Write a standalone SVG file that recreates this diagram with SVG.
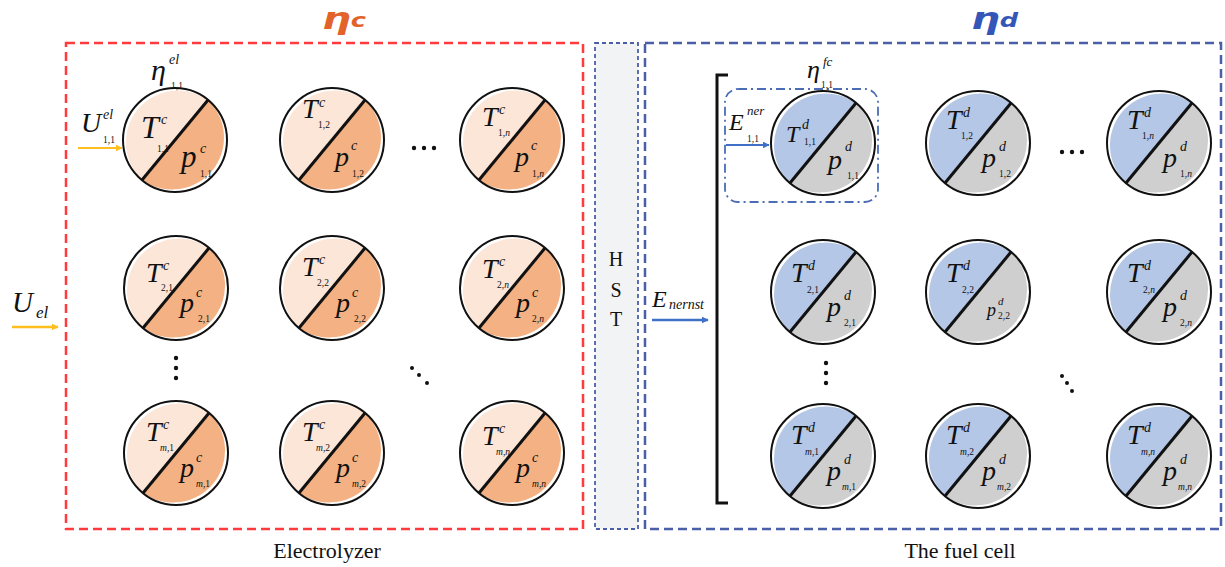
<svg xmlns="http://www.w3.org/2000/svg" xmlns:xlink="http://www.w3.org/1999/xlink" width="1225" height="567" viewBox="0 0 1225 567">
<style>
.m{font-family:"Liberation Serif",serif;font-style:italic;fill:#111}
.u{font-family:"Liberation Serif",serif;fill:#111}
.big{font-size:28px}
.sup{font-size:14px}
.sub{font-size:9.5px;font-style:normal}
.sub tspan{font-style:italic}
.ring{fill:none;stroke:#111;stroke-width:2}
.cut{stroke:#111;stroke-width:3}
.dot{fill:#111}
.ttl{font-family:"DejaVu Sans",sans-serif;font-style:italic;font-weight:bold}
</style>
<defs>
<marker id="ay" viewBox="0 0 10 10" refX="9" refY="5" markerWidth="7" markerHeight="7" orient="auto" markerUnits="userSpaceOnUse"><path d="M0,0 L10,5 L0,10 Z" fill="#ffbf1f"/></marker>
<marker id="ab" viewBox="0 0 10 10" refX="9" refY="5" markerWidth="7" markerHeight="7" orient="auto" markerUnits="userSpaceOnUse"><path d="M0,0 L10,5 L0,10 Z" fill="#3f6fc6"/></marker>
<g id="elBase">
<path d="M-33,40 A52,52 0 0,1 33,-40 Z" fill="#fce6d8"/>
<path d="M33,-40 A52,52 0 0,1 -33,40 Z" fill="#f4b183"/>
<circle r="52" class="ring"/>
<line x1="-33" y1="40" x2="33" y2="-40" class="cut"/>
</g>
<g id="fcBase">
<path d="M-33,40 A52,52 0 0,1 33,-40 Z" fill="#b4c7e7"/>
<path d="M33,-40 A52,52 0 0,1 -33,40 Z" fill="#d0cfcf"/>
<circle r="52" class="ring"/>
<line x1="-33" y1="40" x2="33" y2="-40" class="cut"/>
</g>
</defs>

<!-- frames -->
<g id="frames">
<rect x="66" y="43" width="517" height="486" fill="none" stroke="#ff3b3b" stroke-width="2.5" stroke-dasharray="9 5"/>
<rect x="595" y="43" width="43" height="486" fill="#f2f3f5" stroke="#4a5fa8" stroke-width="1.8" stroke-dasharray="4 3"/>
<rect x="645" y="43" width="576" height="486" fill="none" stroke="#4a5fa8" stroke-width="2.5" stroke-dasharray="9 5"/>
<rect x="725" y="89" width="153" height="113" rx="13" fill="none" stroke="#4a6db5" stroke-width="1.8" stroke-dasharray="9 4 2 4"/>
</g>

<!-- titles and labels -->
<g id="titles">
<text class="ttl" transform="translate(322,29) scale(1.35,1)" font-size="30" fill="#e2622a">η<tspan font-size="19" dy="-2">c</tspan></text>
<text class="ttl" transform="translate(971,29) scale(1.35,1)" font-size="30" fill="#3456b8">η<tspan font-size="19" dy="-2">d</tspan></text>
<text class="u" x="327" y="558" font-size="22" text-anchor="middle">Electrolyzer</text>
<text class="u" x="960" y="558" font-size="22" text-anchor="middle">The fuel cell</text>
<text class="u" x="616" y="266" font-size="20" text-anchor="middle">H</text>
<text class="u" x="616" y="297" font-size="20" text-anchor="middle">S</text>
<text class="u" x="616" y="326" font-size="20" text-anchor="middle">T</text>
<!-- eta el -->
<text class="m" x="151" y="80" font-size="30">η</text>
<text class="m" x="169" y="64" font-size="14">el</text>
<text class="m sub" x="171" y="89">1,1</text>
<!-- U el 1,1 -->
<text class="m" x="81" y="132" font-size="28">U</text>
<text class="m" x="103" y="119" font-size="14">el</text>
<text class="m sub" x="103" y="143">1,1</text>
<!-- U el big -->
<text class="m" x="12" y="312" font-size="29">U</text>
<text class="m" x="36" y="318" font-size="17">el</text>
<!-- E nernst -->
<text class="m" x="652" y="307" font-size="24">E</text>
<text class="m" x="669" y="309" font-size="14">nernst</text>
<!-- E ner 1,1 -->
<text class="m" x="729" y="130" font-size="24">E</text>
<text class="m" x="747" y="115" font-size="13">ner</text>
<text class="m sub" x="747" y="142">1,1</text>
<!-- eta fc -->
<text class="m" x="807" y="78" font-size="26">η</text>
<text class="m" x="823" y="66" font-size="13">fc</text>
<text class="m sub" x="821" y="88">1,1</text>
</g>

<!-- connectors -->
<g id="connectors">
<line x1="78" y1="148" x2="122" y2="148" stroke="#ffbf1f" stroke-width="2" marker-end="url(#ay)"/>
<line x1="12" y1="327" x2="58" y2="327" stroke="#ffbf1f" stroke-width="2.5" marker-end="url(#ay)"/>
<line x1="652" y1="320" x2="708" y2="320" stroke="#3f6fc6" stroke-width="2.5" marker-end="url(#ab)"/>
<line x1="726" y1="145" x2="769" y2="145" stroke="#3f6fc6" stroke-width="2" marker-end="url(#ab)"/>
<path d="M728,75 L717,75 L717,503 L728,503" fill="none" stroke="#111" stroke-width="3"/>
</g>

<!-- ellipsis dots -->
<g id="dots">
<circle class="dot" cx="414" cy="148" r="2.2"/><circle class="dot" cx="424" cy="148" r="2.2"/><circle class="dot" cx="434" cy="148" r="2.2"/>
<circle class="dot" cx="1062" cy="152" r="2.2"/><circle class="dot" cx="1072" cy="152" r="2.2"/><circle class="dot" cx="1082" cy="152" r="2.2"/>
<circle class="dot" cx="176" cy="358" r="2.2"/><circle class="dot" cx="176" cy="368" r="2.2"/><circle class="dot" cx="176" cy="378" r="2.2"/>
<circle class="dot" cx="826" cy="363" r="2.2"/><circle class="dot" cx="826" cy="373" r="2.2"/><circle class="dot" cx="826" cy="383" r="2.2"/>
<circle class="dot" cx="412" cy="368" r="2"/><circle class="dot" cx="419" cy="375" r="2"/><circle class="dot" cx="427" cy="383" r="2"/>
<circle class="dot" cx="1062" cy="376" r="2"/><circle class="dot" cx="1067" cy="383" r="2"/><circle class="dot" cx="1072" cy="391" r="2"/>
</g>

<!-- electrolyzer nodes -->
<g id="el-1-1" transform="translate(175,140)"><use href="#elBase"/>
<text class="m" x="-34" y="-2" font-size="32">T</text><text class="m sup" x="-14" y="-16">c</text><text class="m sub" x="-18" y="12">1,1</text>
<text class="m" x="6" y="27" font-size="31">p</text><text class="m sup" x="25" y="13">c</text><text class="m sub" x="25" y="37">1,1</text></g>
<g id="el-1-2" transform="translate(332,140)"><use href="#elBase"/>
<text class="m big" x="-30" y="-22">T</text><text class="m sup" x="-13" y="-33">c</text><text class="m sub" x="-14" y="-12">1,2</text>
<text class="m big" x="3" y="26">p</text><text class="m sup" x="19" y="10">c</text><text class="m sub" x="20" y="37">1,2</text></g>
<g id="el-1-n" transform="translate(512,140)"><use href="#elBase"/>
<text class="m big" x="-30" y="-14">T</text><text class="m sup" x="-13" y="-26">c</text><text class="m sub" x="-14" y="-4">1,<tspan>n</tspan></text>
<text class="m big" x="3" y="26">p</text><text class="m sup" x="19" y="10">c</text><text class="m sub" x="20" y="37">1,<tspan>n</tspan></text></g>

<g id="el-2-1" transform="translate(176,288)"><use href="#elBase"/>
<text class="m big" x="-30" y="-6">T</text><text class="m sup" x="-13" y="-18">c</text><text class="m sub" x="-15" y="3">2,1</text>
<text class="m big" x="4" y="24">p</text><text class="m sup" x="20" y="9">c</text><text class="m sub" x="22" y="34">2,1</text></g>
<g id="el-2-2" transform="translate(332,288)"><use href="#elBase"/>
<text class="m big" x="-30" y="-12">T</text><text class="m sup" x="-13" y="-24">c</text><text class="m sub" x="-15" y="-2">2,2</text>
<text class="m big" x="4" y="24">p</text><text class="m sup" x="20" y="9">c</text><text class="m sub" x="22" y="34">2,2</text></g>
<g id="el-2-n" transform="translate(512,288)"><use href="#elBase"/>
<text class="m big" x="-30" y="-10">T</text><text class="m sup" x="-13" y="-22">c</text><text class="m sub" x="-15" y="0">2,<tspan>n</tspan></text>
<text class="m big" x="4" y="24">p</text><text class="m sup" x="20" y="9">c</text><text class="m sub" x="20" y="34">2,<tspan>n</tspan></text></g>

<g id="el-m-1" transform="translate(176,453)"><use href="#elBase"/>
<text class="m big" x="-30" y="-12">T</text><text class="m sup" x="-13" y="-24">c</text><text class="m sub" x="-16" y="-2"><tspan>m</tspan>,1</text>
<text class="m big" x="4" y="24">p</text><text class="m sup" x="20" y="9">c</text><text class="m sub" x="20" y="34"><tspan>m</tspan>,1</text></g>
<g id="el-m-2" transform="translate(332,453)"><use href="#elBase"/>
<text class="m big" x="-30" y="-12">T</text><text class="m sup" x="-13" y="-24">c</text><text class="m sub" x="-16" y="-2"><tspan>m</tspan>,2</text>
<text class="m big" x="4" y="24">p</text><text class="m sup" x="20" y="9">c</text><text class="m sub" x="20" y="34"><tspan>m</tspan>,2</text></g>
<g id="el-m-n" transform="translate(512,453)"><use href="#elBase"/>
<text class="m big" x="-30" y="-8">T</text><text class="m sup" x="-13" y="-20">c</text><text class="m sub" x="-16" y="2"><tspan>m</tspan>,<tspan>n</tspan></text>
<text class="m big" x="4" y="24">p</text><text class="m sup" x="20" y="9">c</text><text class="m sub" x="20" y="34"><tspan>m</tspan>,<tspan>n</tspan></text></g>

<!-- fuel cell nodes -->
<g id="fc-1-1" transform="translate(823,143)"><use href="#fcBase"/>
<text class="m" x="-37" y="-1" font-size="24">T</text><text class="m sup" x="-21" y="-14">d</text><text class="m sub" x="-19" y="2">1,1</text>
<text class="m big" x="5" y="26">p</text><text class="m sup" x="22" y="8">d</text><text class="m sub" x="24" y="36">1,1</text></g>
<g id="fc-1-2" transform="translate(978,143)"><use href="#fcBase"/>
<text class="m big" x="-32" y="-14">T</text><text class="m sup" x="-15" y="-26">d</text><text class="m sub" x="-17" y="-4">1,2</text>
<text class="m big" x="4" y="24">p</text><text class="m sup" x="21" y="8">d</text><text class="m sub" x="21" y="34">1,2</text></g>
<g id="fc-1-n" transform="translate(1159,143)"><use href="#fcBase"/>
<text class="m big" x="-32" y="-14">T</text><text class="m sup" x="-15" y="-26">d</text><text class="m sub" x="-17" y="-4">1,<tspan>n</tspan></text>
<text class="m big" x="4" y="24">p</text><text class="m sup" x="21" y="8">d</text><text class="m sub" x="21" y="34">1,<tspan>n</tspan></text></g>

<g id="fc-2-1" transform="translate(823,292)"><use href="#fcBase"/>
<text class="m big" x="-32" y="-10">T</text><text class="m sup" x="-15" y="-22">d</text><text class="m sub" x="-16" y="1">2,1</text>
<text class="m big" x="4" y="24">p</text><text class="m sup" x="21" y="8">d</text><text class="m sub" x="21" y="34">2,1</text></g>
<g id="fc-2-2" transform="translate(978,292)"><use href="#fcBase"/>
<text class="m big" x="-32" y="-10">T</text><text class="m sup" x="-15" y="-22">d</text><text class="m sub" x="-16" y="1">2,2</text>
<text class="m" x="9" y="24" font-size="18">p</text><text class="m" x="20" y="13" font-size="11">d</text><text class="m sub" x="20" y="27" font-size="8">2,2</text></g>
<g id="fc-2-n" transform="translate(1159,292)"><use href="#fcBase"/>
<text class="m big" x="-32" y="-10">T</text><text class="m sup" x="-15" y="-22">d</text><text class="m sub" x="-16" y="1">2,<tspan>n</tspan></text>
<text class="m big" x="4" y="24">p</text><text class="m sup" x="21" y="8">d</text><text class="m sub" x="21" y="34">2,<tspan>n</tspan></text></g>

<g id="fc-m-1" transform="translate(823,456)"><use href="#fcBase"/>
<text class="m big" x="-32" y="-12">T</text><text class="m sup" x="-15" y="-24">d</text><text class="m sub" x="-18" y="-1"><tspan>m</tspan>,1</text>
<text class="m big" x="4" y="24">p</text><text class="m sup" x="21" y="8">d</text><text class="m sub" x="19" y="34"><tspan>m</tspan>,1</text></g>
<g id="fc-m-2" transform="translate(978,456)"><use href="#fcBase"/>
<text class="m big" x="-32" y="-12">T</text><text class="m sup" x="-15" y="-24">d</text><text class="m sub" x="-18" y="-1"><tspan>m</tspan>,2</text>
<text class="m big" x="4" y="24">p</text><text class="m sup" x="21" y="8">d</text><text class="m sub" x="19" y="34"><tspan>m</tspan>,2</text></g>
<g id="fc-m-n" transform="translate(1159,456)"><use href="#fcBase"/>
<text class="m big" x="-32" y="-12">T</text><text class="m sup" x="-15" y="-24">d</text><text class="m sub" x="-18" y="-1"><tspan>m</tspan>,<tspan>n</tspan></text>
<text class="m big" x="4" y="24">p</text><text class="m sup" x="21" y="8">d</text><text class="m sub" x="19" y="34"><tspan>m</tspan>,<tspan>n</tspan></text></g>
</svg>
